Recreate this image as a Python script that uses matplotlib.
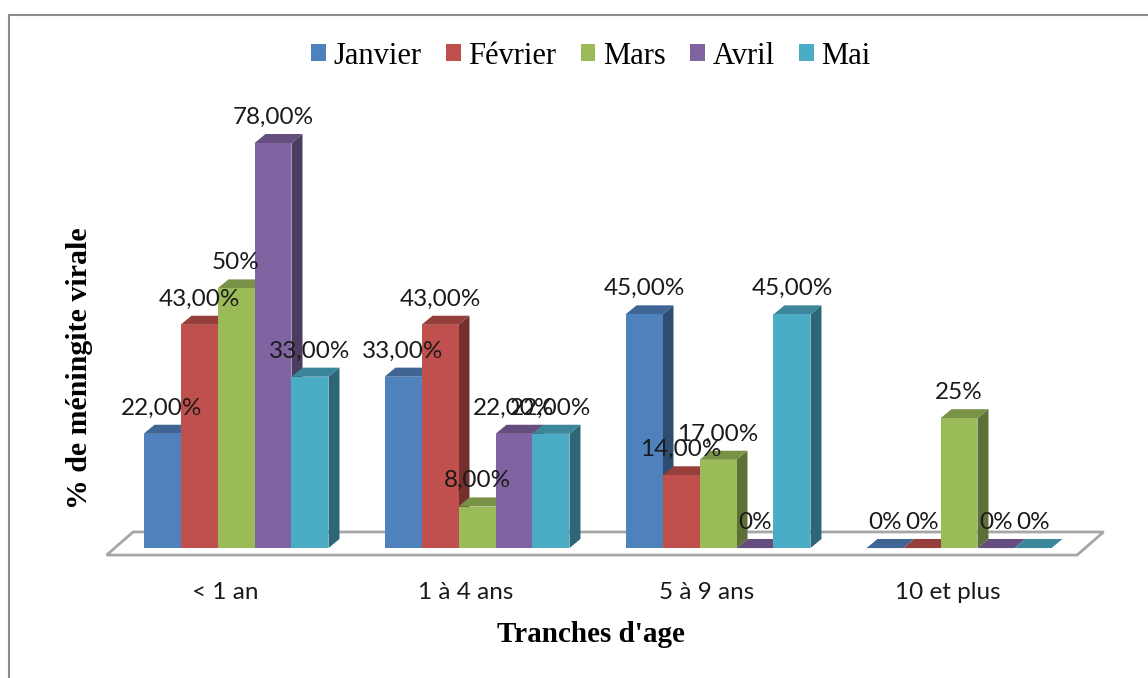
import numpy as np
import matplotlib.pyplot as plt
from matplotlib.patches import Polygon
from matplotlib.lines import Line2D
from matplotlib.colors import to_rgb

# data
categories = ['< 1 an', '1 à 4 ans', '5 à 9 ans', '10 et plus']
months = ['Janvier', 'Février', 'Mars', 'Avril', 'Mai']
janvier = [22, 33, 45, 0]
fevrier = [43, 43, 14, 0]
mars = [50, 8, 17, 25]
avril = [78, 22, 0, 0]
mai = [33, 22, 45, 0]
lab_janvier = ['22,00%', '33,00%', '45,00%', '0%']
lab_fevrier = ['43,00%', '43,00%', '14,00%', '0%']
lab_mars = ['50%', '8,00%', '17,00%', '25%']
lab_avril = ['78,00%', '22,00%', '0%', '0%']
lab_mai = ['33,00%', '22,00%', '45,00%', '0%']

series = [janvier, fevrier, mars, avril, mai]
labels = [lab_janvier, lab_fevrier, lab_mars, lab_avril, lab_mai]
colors = ['#4F81BD', '#C0504D', '#9BBB59', '#8064A2', '#4BACC6']

W, H = 1148, 678
fig = plt.figure(figsize=(W / 100, H / 100), dpi=100)
# plot area in pixels: x 105..1105, y 100..560
ax = fig.add_axes([105 / W, 1 - 560 / H, 1000 / W, 460 / H])
ax.set_xlim(-0.5436, 3.6058)
ax.set_ylim(-2.3, 86.3)
ax.axis('off')

w = 0.1535      # bar width (category units)
dx = 0.0456     # depth offsets
dy = 1.75

# floor
floor = Polygon([(-0.537, -1.35), (-0.427, 3.1), (3.60, 3.1), (3.49, -1.35)],
                closed=True, facecolor='white', edgecolor='#A6A6A6', lw=2,
                zorder=1, clip_on=False)
ax.add_patch(floor)

x = np.arange(len(categories))
z = 2
handles = []
for i in range(len(categories)):
    for j in range(len(months)):
        v = series[j][i]
        x0 = x[i] - 2.5 * w + j * w
        c = np.array(to_rgb(colors[j]))
        side = Polygon([(x0 + w, 0), (x0 + w + dx, dy), (x0 + w + dx, v + dy), (x0 + w, v)],
                       closed=True, facecolor=c * 0.6, edgecolor='none', zorder=z)
        top = Polygon([(x0, v), (x0 + dx, v + dy), (x0 + w + dx, v + dy), (x0 + w, v)],
                      closed=True, facecolor=c * 0.78, edgecolor='none', zorder=z + 1)
        ax.add_patch(side)
        ax.add_patch(top)
        b = ax.bar(x0, v, width=w, align='edge', color=colors[j], zorder=z + 2,
                   label=months[j] if i == 0 else None)
        if i == 0:
            handles.append(b)
        z += 3

for i in range(len(categories)):
    for j in range(len(months)):
        v = series[j][i]
        xc = x[i] - 2.5 * w + j * w + w / 2
        ax.text(xc, v + 3.7, labels[j][i], ha='center', va='baseline',
                fontsize=17.5, family='Lato', color='#1a1a1a', zorder=100)

for i, cat in enumerate(categories):
    ax.text(x[i] - 0.046, -6.6, cat, ha='center', va='top', fontsize=17.5,
            family='Lato', color='#1a1a1a')

fig.text(591 / W, 1 - 634 / H, "Tranches d'age", ha='center', va='center',
         fontsize=21, fontweight='bold', family='Liberation Serif')
fig.text(80 / W, 1 - 368 / H, '% de méningite virale', ha='center', va='center',
         rotation=90, fontsize=21.5, fontweight='bold', family='Liberation Serif')

leg = fig.legend(handles=handles, labels=months, loc='center',
                 bbox_to_anchor=(591 / W, 1 - 56 / H), ncol=5, frameon=False,
                 prop={'family': 'Liberation Serif', 'size': 22},
                 handlelength=0.48, handleheight=0.48, handletextpad=0.25,
                 columnspacing=0.8, borderpad=0)

# chart border (top and left visible)
fig.add_artist(Line2D([9 / W, 9 / W], [0, 1 - 15 / H], transform=fig.transFigure,
                      color='#8C8C8C', lw=1.5))
fig.add_artist(Line2D([9 / W, 1], [1 - 15 / H, 1 - 15 / H], transform=fig.transFigure,
                      color='#8C8C8C', lw=1.5))

fig.savefig('out.png', dpi=100)
